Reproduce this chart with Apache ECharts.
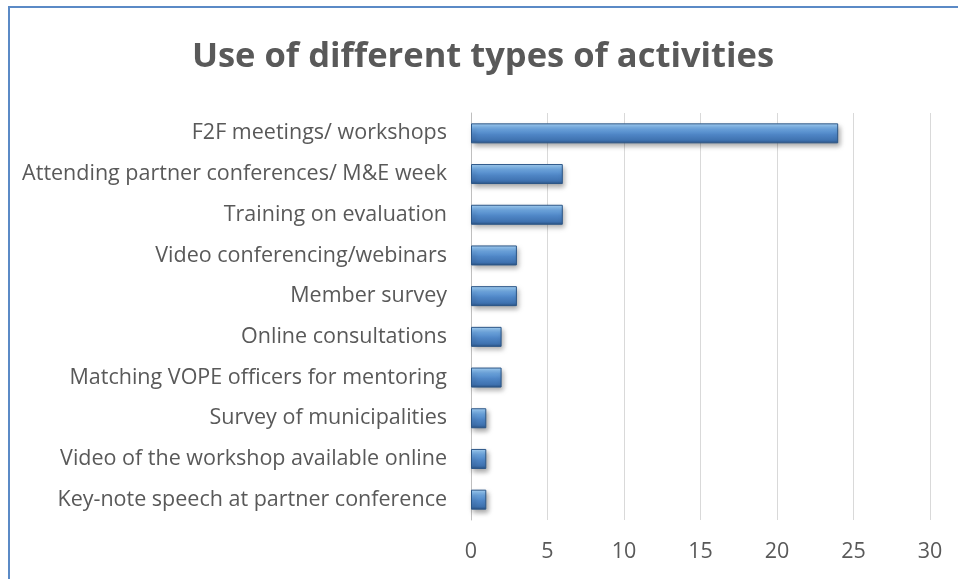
<!DOCTYPE html>
<html>
<head>
<meta charset="utf-8">
<script src="https://cdn.jsdelivr.net/npm/echarts@6/dist/echarts.min.js"></script>
<style>
  html, body { margin: 0; padding: 0; background: #fff; }
  #main { width: 958px; height: 579px; }
</style>
</head>
<body>
<div id="main"></div>
<script>
  // categories listed bottom to top (category axis starts at bottom)
  const categories = [
    "Key-note speech at partner conference",
    "Video of the workshop available online",
    "Survey of municipalities",
    "Matching VOPE officers for mentoring",
    "Online consultations",
    "Member survey",
    "Video conferencing/webinars",
    "Training on evaluation",
    "Attending partner conferences/ M&E week",
    "F2F meetings/ workshops"
  ];
  const counts = [1, 1, 1, 2, 2, 3, 3, 6, 6, 24];
  const axisMax = 30;
  const axisStep = 5;

  const chart = echarts.init(document.getElementById("main"));

  // fake bevel: light top edge, darker bottom
  const barFill = new echarts.graphic.LinearGradient(0, 0, 0, 1, [
    { offset: 0, color: "#b4d8f7" },
    { offset: 0.12, color: "#8cc0ef" },
    { offset: 0.3, color: "#6aa3de" },
    { offset: 0.55, color: "#4f86c6" },
    { offset: 0.85, color: "#3f72b0" },
    { offset: 1, color: "#2a5283" }
  ]);

  const option = {
    animation: false,
    title: {
      text: "Use of different types of activities",
      left: 478,
      textAlign: "center",
      top: 35,
      textStyle: {
        fontFamily: "Open Sans",
        fontSize: 34.5,
        fontWeight: "bold",
        color: "#595959"
      }
    },
    grid: { left: 471, right: 28, top: 113, bottom: 59 },
    xAxis: {
      type: "value",
      min: 0,
      max: axisMax,
      interval: axisStep,
      axisLine: { show: false },
      axisTick: { show: false },
      splitLine: { lineStyle: { color: "#d9d9d9", width: 1 } },
      axisLabel: {
        margin: 21,
        fontFamily: "Open Sans",
        fontSize: 21.5,
        color: "#595959"
      }
    },
    yAxis: {
      type: "category",
      data: categories,
      axisLine: { show: true, lineStyle: { color: "#bfbfbf" } },
      axisTick: { show: false },
      axisLabel: {
        margin: 24,
        padding: [5, 0, 0, 0],
        fontFamily: "Open Sans",
        fontSize: 21.5,
        color: "#595959"
      }
    },
    series: [
      {
        type: "bar",
        data: counts,
        barWidth: 20,
        itemStyle: {
          color: barFill,
          borderColor: "#2b5687",
          borderWidth: 1,
          shadowColor: "rgba(0,0,0,0.35)",
          shadowBlur: 5,
          shadowOffsetX: 2,
          shadowOffsetY: 3
        }
      }
    ],
    graphic: [
      {
        type: "rect",
        shape: { x: 9, y: 7, width: 980, height: 600 },
        style: { fill: "none", stroke: "#5b8ac6", lineWidth: 2 },
        silent: true
      }
    ]
  };

  chart.setOption(option);
</script>
</body>
</html>
